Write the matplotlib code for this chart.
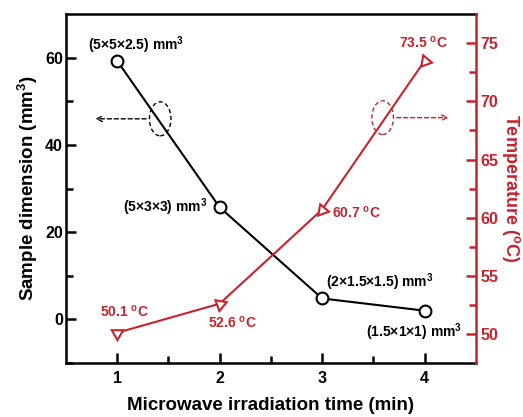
import matplotlib
matplotlib.use("Agg")
import matplotlib.pyplot as plt
from matplotlib.patches import Ellipse

plt.rcParams['font.family'] = ['Liberation Sans', 'DejaVu Sans']
plt.rcParams['font.weight'] = 'bold'
plt.rcParams['mathtext.fontset'] = 'custom'
plt.rcParams['mathtext.rm'] = 'Liberation Sans:bold'
plt.rcParams['mathtext.bf'] = 'Liberation Sans:bold'
plt.rcParams['mathtext.it'] = 'Liberation Sans:bold'

RED = '#C8222C'

# data
time_min = [1, 2, 3, 4]
dimension = [59.3, 25.7, 4.8, 2.0]
temperature = [50.1, 52.6, 60.7, 73.5]
dim_labels = ['(5×5×2.5) mm$^{3}$', '(5×3×3) mm$^{3}$',
              '(2×1.5×1.5) mm$^{3}$', '(1.5×1×1) mm$^{3}$']
temp_labels = ['50.1 $^{o}$C', '52.6 $^{o}$C', '60.7 $^{o}$C', '73.5 $^{o}$C']

# label placement (pixels) and triangle rotation
dim_offsets = [(19, 16, 'center'), (-12, 0, 'right'), (4, 16, 'left'), (-11, -22, 'center')]
temp_offsets = [(7, 21, 'center'), (13, -19, 'center'), (10, -3, 'left'), (-1, 18, 'center')]
tri_angles = [180, 170, 140, 140]

fig = plt.figure(figsize=(5.23, 4.17), dpi=100)
ax = fig.add_axes([0.126, 0.1295, 0.784, 0.8365])
ax2 = ax.twinx()

ax.plot(time_min, dimension, color='black', lw=1.5, marker='o', ms=8.5,
        mfc='white', mec='black', mew=1.5, zorder=3)
ax2.plot(time_min, temperature, color=RED, lw=1.5, zorder=3)
for x, y, a in zip(time_min, temperature, tri_angles):
    ax2.plot([x], [y], marker=(3, 0, a), ms=9.5, mfc='white', mec=RED, mew=1.5,
             linestyle='', zorder=4)

for x, y, t, (dx, dy, ha) in zip(time_min, dimension, dim_labels, dim_offsets):
    ax.annotate(t, xy=(x, y), xytext=(dx, dy), textcoords='offset pixels',
                ha=ha, va='center', fontsize=10, fontweight='bold', color='black')
for x, y, t, (dx, dy, ha) in zip(time_min, temperature, temp_labels, temp_offsets):
    ax2.annotate(t, xy=(x, y), xytext=(dx, dy), textcoords='offset pixels',
                 ha=ha, va='center', fontsize=10, fontweight='bold', color=RED)

ax.set_xlim(0.5, 4.5)
ax.set_ylim(-10, 70)
ax2.set_ylim(47.5, 77.5)
ax.set_xticks([1, 2, 3, 4])
ax.set_xticks([1.5, 2.5, 3.5], minor=True)
ax.set_yticks([0, 20, 40, 60])
ax.set_yticks([-10, 10, 30, 50], minor=True)
ax2.set_yticks([50, 55, 60, 65, 70, 75])
ax2.set_yticks([52.5, 57.5, 62.5, 67.5, 72.5], minor=True)

for s in ['left', 'bottom', 'top']:
    ax.spines[s].set_linewidth(1.8)
ax2.spines['right'].set_color(RED)
ax2.spines['right'].set_linewidth(1.8)
for s in ['left', 'bottom', 'top']:
    ax2.spines[s].set_visible(False)
ax.spines['right'].set_visible(False)

ax.tick_params(which='both', direction='in', width=1.8, labelsize=11.5)
ax.tick_params(axis='y', pad=2)
ax.tick_params(axis='x', pad=6)
ax.tick_params(which='major', length=7)
ax.tick_params(which='minor', length=5)
ax2.tick_params(which='both', direction='in', width=1.8, colors=RED, labelsize=11.5, pad=3)
ax2.tick_params(which='major', length=7)
ax2.tick_params(which='minor', length=5)
for lab in ax.get_xticklabels() + ax.get_yticklabels() + ax2.get_yticklabels():
    lab.set_fontweight('bold')

ax.set_xlabel('Microwave irradiation time (min)', fontsize=13.5, fontweight='bold', labelpad=8)
ax.set_ylabel('Sample dimension (mm$^{3}$)', fontsize=13.5, fontweight='bold', labelpad=4)
ax2.set_ylabel('Temperature ($^{o}$C)', fontsize=13, fontweight='bold', color=RED,
               rotation=270, labelpad=17)

# dashed ellipses and arrows pointing to each axis
ax.add_patch(Ellipse((1.42, 46), 0.21, 7.8, fill=False, ls=(0, (3, 2)), lw=1, ec='black', zorder=5))
ax.annotate('', xy=(0.76, 46), xytext=(1.31, 46),
            arrowprops=dict(arrowstyle='->', ls=(0, (3, 2)), lw=1, color='black'))
ax2.add_patch(Ellipse((3.59, 68.6), 0.21, 2.9, fill=False, ls=(0, (3, 2)), lw=1, ec=RED, zorder=5))
ax2.annotate('', xy=(4.26, 68.6), xytext=(3.70, 68.6),
             arrowprops=dict(arrowstyle='->', ls=(0, (3, 2)), lw=1, color=RED))

fig.savefig('out.png', dpi=100)
